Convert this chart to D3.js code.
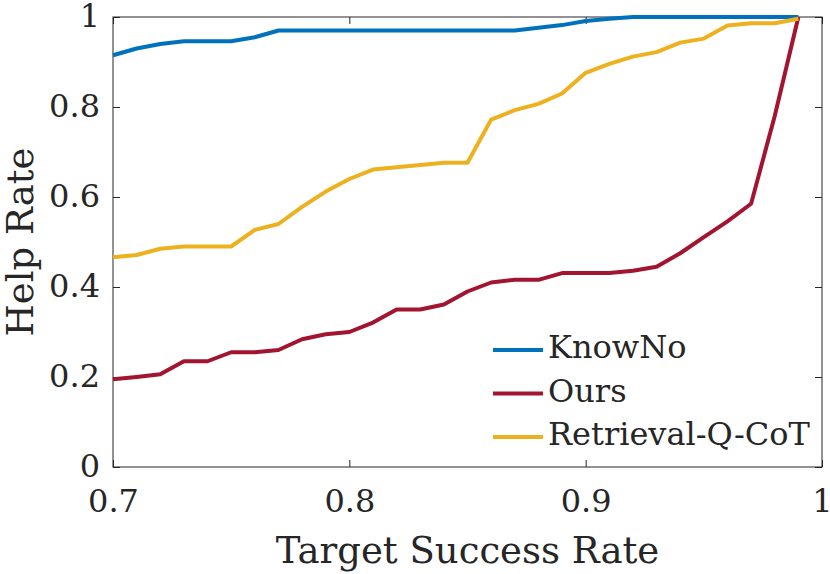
<!DOCTYPE html>
<html>
<head>
<meta charset="utf-8">
<script src="https://cdn.jsdelivr.net/npm/d3@7"></script>
<style>
  body { margin: 0; background: #fff; }
  svg text { font-family: "DejaVu Serif", serif; fill: #262626; }
</style>
</head>
<body>
<svg id="chart"></svg>
<script>
const width = 830,
  height = 574;
const margin = { top: 17, right: 8, bottom: 107, left: 113 };

// target success rate on the x axis
const targetRates = [
  0.70, 0.71, 0.72, 0.73, 0.74, 0.75, 0.76, 0.77, 0.78, 0.79,
  0.80, 0.81, 0.82, 0.83, 0.84, 0.85, 0.86, 0.87, 0.88, 0.89,
  0.90, 0.91, 0.92, 0.93, 0.94, 0.95, 0.96, 0.97, 0.98, 0.99
];
const knowNo = [
  0.915, 0.93, 0.94, 0.946, 0.946, 0.946, 0.955, 0.97, 0.97, 0.97,
  0.97, 0.97, 0.97, 0.97, 0.97, 0.97, 0.97, 0.97, 0.976, 0.982,
  0.991, 0.996, 1.0, 1.0, 1.0, 1.0, 1.0, 1.0, 1.0, 1.0
];
const ours = [
  0.195, 0.2, 0.206, 0.235, 0.235, 0.255, 0.255, 0.26, 0.284, 0.295,
  0.3, 0.321, 0.35, 0.35, 0.361, 0.39, 0.41, 0.416, 0.416, 0.431,
  0.431, 0.431, 0.436, 0.445, 0.475, 0.511, 0.546, 0.585, 0.78, 1.0
];
const retrievalQCoT = [
  0.466, 0.471, 0.485, 0.49, 0.49, 0.49, 0.527, 0.54, 0.578, 0.612,
  0.64, 0.661, 0.666, 0.671, 0.676, 0.676, 0.772, 0.793, 0.807, 0.83,
  0.876, 0.896, 0.912, 0.922, 0.943, 0.952, 0.981, 0.986, 0.986, 0.996
];
const seriesNames = ["KnowNo", "Ours", "Retrieval-Q-CoT"];
const seriesColors = ["#0072BD", "#A2142F", "#EDB120"];
const xTicks = [0.7, 0.8, 0.9, 1];
const yTicks = [0, 0.2, 0.4, 0.6, 0.8, 1];

const svg = d3.select("#chart").attr("width", width).attr("height", height);
const innerW = width - margin.left - margin.right,
  innerH = height - margin.top - margin.bottom;
const g = svg.append("g").attr("transform", `translate(${margin.left},${margin.top})`);

const x = d3.scaleLinear().domain([0.7, 1]).range([0, innerW]);
const y = d3.scaleLinear().domain([0, 1]).range([innerH, 0]);
const fmt = d3.format("~g");

// inward ticks on all four sides, like a matlab box
const axes = [
  [d3.axisBottom(x).tickValues(xTicks), `translate(0,${innerH})`, true],
  [d3.axisTop(x).tickValues(xTicks), null, false],
  [d3.axisLeft(y).tickValues(yTicks), null, true],
  [d3.axisRight(y).tickValues(yTicks), `translate(${innerW},0)`, false]
];
axes.forEach(([axis, tr, labels]) => {
  const a = g.append("g")
    .call(axis.tickSizeInner(-7).tickSizeOuter(0).tickFormat(labels ? fmt : ""));
  if (tr) a.attr("transform", tr);
  a.select(".domain").remove();
  a.selectAll("line").attr("stroke", "#262626");
  a.attr("font-family", null).attr("font-size", null);
});
g.selectAll("text").style("font-size", "32px");
// position tick labels
g.selectAll("g.tick text")
  .filter(function () { return this.parentNode.parentNode.getAttribute("transform"); })
  .attr("y", 45).attr("dy", 0);
g.selectAll("g.tick text")
  .filter(function () { return !this.parentNode.parentNode.getAttribute("transform"); })
  .attr("x", -13).attr("dy", 0).attr("y", 9);

g.append("rect")
  .attr("width", innerW).attr("height", innerH)
  .attr("fill", "none").attr("stroke", "#262626").attr("stroke-width", 1);

const line = d3.line()
  .x((d, i) => x(targetRates[i]))
  .y((d) => y(d));

[knowNo, ours, retrievalQCoT].forEach((vals, i) => {
  g.append("path")
    .datum(vals)
    .attr("d", line)
    .attr("fill", "none")
    .attr("stroke", seriesColors[i])
    .attr("stroke-width", 4)
    .attr("stroke-linejoin", "round");
});

// legend
const legend = g.append("g").attr("transform", `translate(${380},${333})`);
seriesNames.forEach((name, i) => {
  const row = legend.append("g").attr("transform", `translate(0,${i * 43.5})`);
  row.append("line")
    .attr("x1", 0).attr("x2", 50)
    .attr("stroke", seriesColors[i]).attr("stroke-width", 4);
  row.append("text")
    .attr("x", 55).attr("y", 8)
    .style("font-size", "32px")
    .text(name);
});

// axis titles
svg.append("text")
  .attr("x", margin.left + innerW / 2).attr("y", 563)
  .attr("text-anchor", "middle")
  .style("font-size", "37px")
  .text("Target Success Rate");
svg.append("text")
  .attr("transform", `translate(33,${margin.top + innerH / 2}) rotate(-90)`)
  .attr("text-anchor", "middle")
  .style("font-size", "37px")
  .text("Help Rate");
</script>
</body>
</html>
